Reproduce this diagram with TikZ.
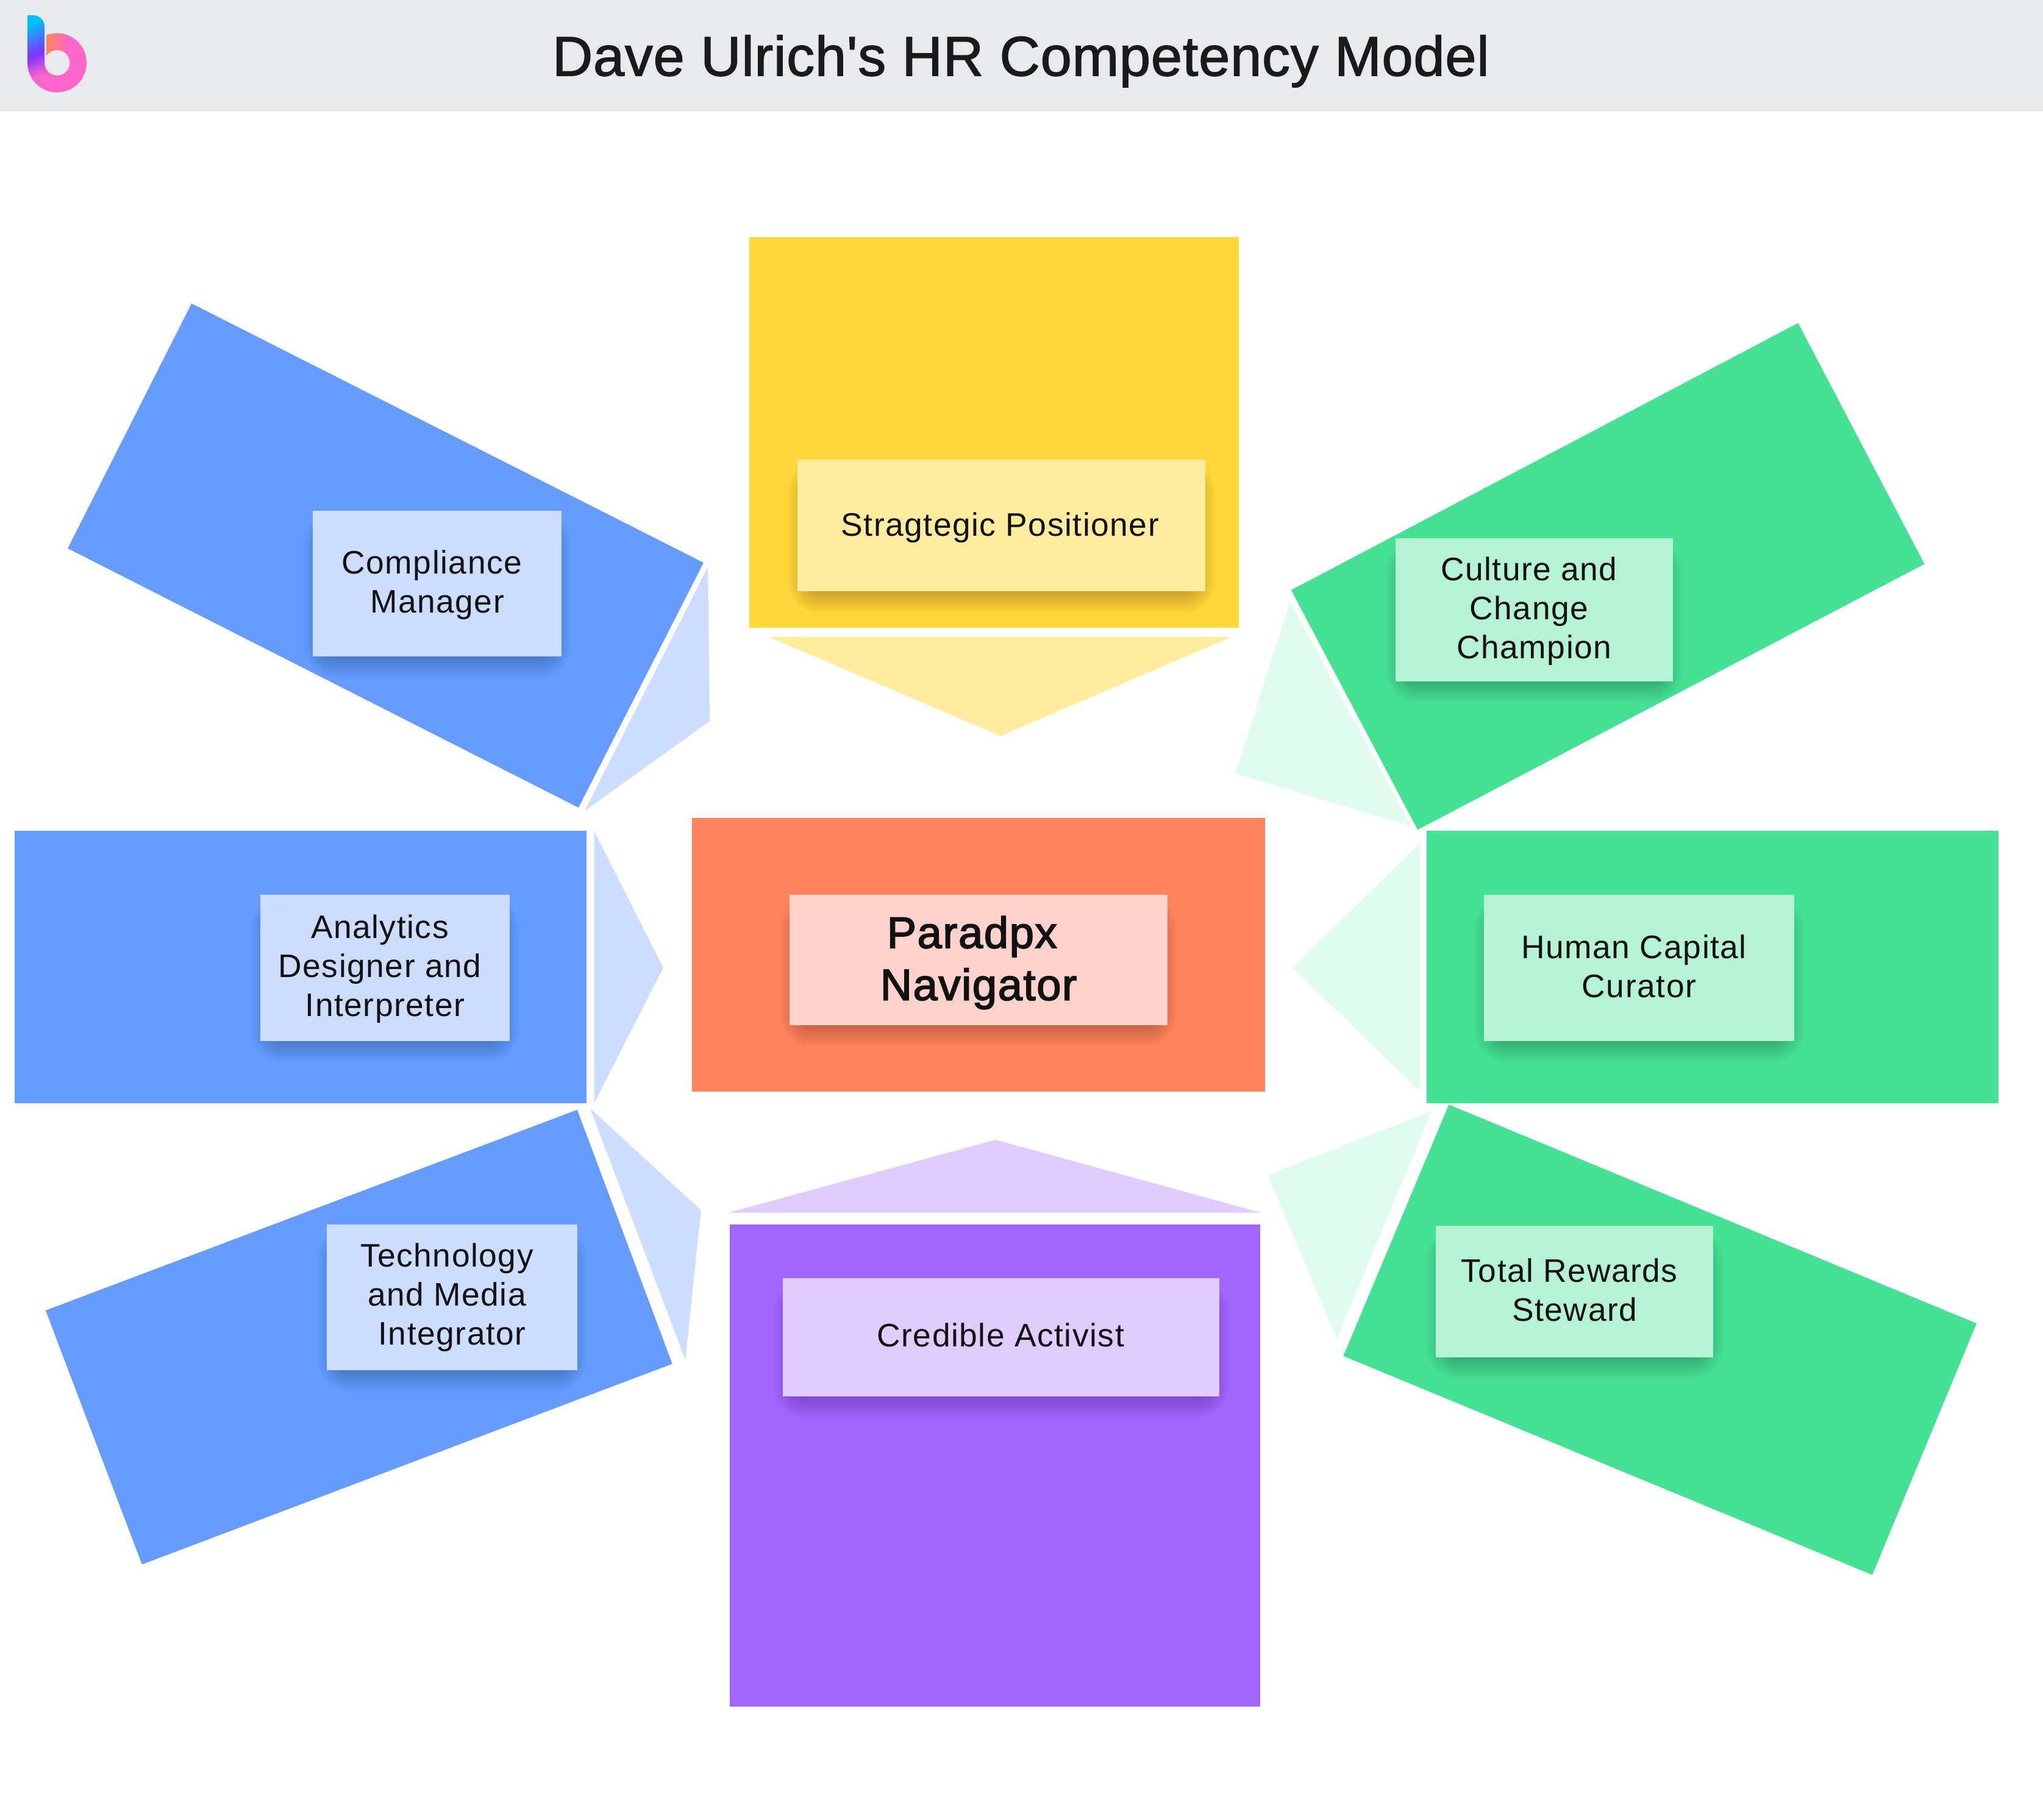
\documentclass[tikz,border=0pt]{standalone}
\usepackage{fontspec}
\setmainfont[LetterSpace=2.8]{Liberation Sans}
\newfontfamily\titlefont[FakeBold=1.5,LetterSpace=0.9]{Liberation Sans}
\newfontfamily\bigfont[FakeBold=2.5,LetterSpace=2.3]{Liberation Sans}
\definecolor{hdr}{HTML}{E9EAEE}
\definecolor{ink}{HTML}{111111}
\definecolor{titleink}{HTML}{1A1A1A}
\definecolor{yelD}{HTML}{FFD738}\definecolor{yelL}{HTML}{FFEC9F}
\definecolor{bluD}{HTML}{669CFF}\definecolor{bluL}{HTML}{CCDDFF}
\definecolor{grnD}{HTML}{45E194}\definecolor{grnL}{HTML}{B5F3D4}\definecolor{grnT}{HTML}{E0FCEF}
\definecolor{orgD}{HTML}{FF845C}\definecolor{orgL}{HTML}{FFD2CB}
\definecolor{purD}{HTML}{A266FF}\definecolor{purL}{HTML}{E0CCFF}
\definecolor{logoA}{HTML}{00BFFF}\definecolor{logoB}{HTML}{7F33FF}\definecolor{logoC}{HTML}{FF66CC}\definecolor{logoD}{HTML}{FF845C}
\pgfdeclareverticalshading{logostem}{100bp}{color(0bp)=(logoC); color(34bp)=(logoC); color(51bp)=(logoB); color(75bp)=(logoA); color(100bp)=(logoA)}
\newcommand{\tsp}[1][8pt]{\rule{#1}{0pt}}
% name, centre x, centre y, width, height, fill: soft shadow below, then the card
\newcommand{\cardbox}[6]{%
  \foreach \i in {0,...,23}{%
    \pgfmathsetmacro{\dx}{#4/2-15+\i}%
    \pgfmathsetmacro{\dy}{#5/2-15+\i}%
    \fill[black,opacity=0.0115,rounded corners={(2+\i)*1pt}]
      ({#2-\dx},{#3+9-\dy}) rectangle ({#2+\dx},{#3+9+\dy});
  }%
  \node[card,fill=#6,minimum width=#4pt,minimum height=#5pt] (#1) at (#2,#3) {};%
}
\tikzset{
  x=1pt,y=-1pt,
  card/.style={rectangle,draw=none,inner sep=0pt,outer sep=0pt},
  lab/.style={inner sep=0pt,outer sep=0pt,align=center,text=ink,font=\fontsize{25}{30}\selectfont},
  biglab/.style={inner sep=0pt,outer sep=0pt,align=center,text=ink,font=\fontsize{33.8}{40}\bigfont},
}
\begin{document}
\begin{tikzpicture}
\useasboundingbox (0,0) rectangle (1568,1396.75);
% header
\fill[hdr] (0,0) rectangle (1568,85.5);
\node[inner sep=0pt,text=titleink,font=\fontsize{43}{50}\titlefont] (title) at (783.5,47) {Dave Ulrich's HR Competency Model};
% logo
\begin{scope}
  \clip (35.6,0) -- (80,0) -- (80,80) -- (0,80) -- (0,48.2) -- (35.6,48.2) -- cycle;
  \fill[logoC,even odd rule] (43.8,48.2) circle[radius=22.7] (43.8,48.2) circle[radius=9.8];
\end{scope}
\begin{scope}[even odd rule]
  \clip (43.8,48.2) circle[radius=22.7] (43.8,48.2) circle[radius=9.8];
  \shade[left color=logoD,right color=logoC] (35.6,20) rectangle (53,44);
\end{scope}
\shade[shading=logostem,shading angle=20]
  (21.1,11.7) -- (25.5,11.7) .. controls (30.3,11.7) and (34.2,15.6) .. (34.2,20.5)
  -- (34.2,48.2) .. controls (34.2,53.6) and (38.4,58) .. (43.8,58)
  -- (43.8,70.9) .. controls (31.3,70.9) and (21.1,60.7) .. (21.1,48.2) -- cycle;
% large panels
\fill[yelD] (575,182) rectangle (951,482);
\fill[bluD] (147,233) -- (540,432) -- (444,620) -- (52,421) -- cycle;
\fill[grnD] (1380,248) -- (1477,433) -- (1088,637) -- (991,453) -- cycle;
\fill[bluD] (11,638) rectangle (450,847);
\fill[grnD] (1095,638) rectangle (1534,847);
\fill[orgD] (531,628) rectangle (971,838);
\fill[bluD] (443,852) -- (516,1047) -- (109,1201) -- (35,1006) -- cycle;
\fill[grnD] (1112,848) -- (1517,1016) -- (1437,1209) -- (1031,1041) -- cycle;
\fill[purD] (560,940) rectangle (967,1310);
% pointers
\fill[yelL] (590,489) -- (945,489) -- (768,565) -- cycle;
\fill[bluL] (543.3,435.2) -- (544.7,553.6) -- (448.8,622.4) -- cycle;
\fill[grnT] (990,462) -- (1083,634) -- (948,594) -- cycle;
\fill[bluL] (456,638) -- (509,743) -- (456,847) -- cycle;
\fill[grnT] (1090,647) -- (1090,838) -- (992,743) -- cycle;
\fill[bluL] (453,851) -- (538,929) -- (526,1044) -- cycle;
\fill[purL] (764,875) -- (968,931) -- (559,931) -- cycle;
\fill[grnT] (1099,853) -- (1026,1028) -- (973,902) -- cycle;
% cards
\cardbox{c1}{768.5}{403.5}{313}{101}{yelL}
\node[lab] (t1) at (767.5,405) {Stragtegic Positioner};
\cardbox{c2}{335.5}{448}{191}{112}{bluL}
\node[lab] (t2) at (335.5,449) {Compliance\tsp\\Manager};
\cardbox{c3}{1177.5}{468}{213}{110}{grnL}
\node[lab] (t3) at (1177.5,469) {Culture and\tsp\\Change\tsp\\Champion};
\cardbox{c4}{295.5}{743}{191}{112}{bluL}
\node[lab] (t4) at (295.5,744) {Analytics\tsp\\Designer and\tsp\\Interpreter};
\cardbox{c5}{751}{737}{290}{100}{orgL}
\node[biglab] (t5) at (751,739) {Paradpx\tsp[10pt]\\Navigator};
\cardbox{c6}{1258}{743}{238}{112}{grnL}
\node[lab] (t6) at (1258,742) {Human Capital\tsp\\Curator};
\cardbox{c7}{347}{996}{192}{112}{bluL}
\node[lab] (t7) at (347,996) {Technology\tsp\\and Media\tsp\\Integrator};
\cardbox{c8}{768.5}{1026.5}{335}{91}{purL}
\node[lab] (t8) at (768,1025) {Credible Activist};
\cardbox{c9}{1208.5}{991.5}{213}{101}{grnL}
\node[lab] (t9) at (1208.5,990.5) {Total Rewards\tsp\\Steward};
\end{tikzpicture}
\end{document}
